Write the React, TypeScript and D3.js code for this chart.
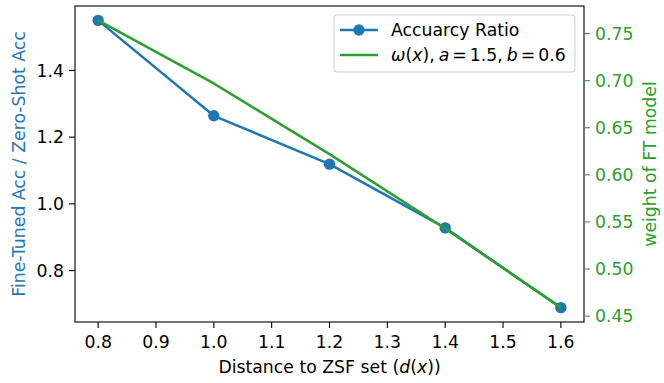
import React, { useEffect, useRef } from 'react';
import * as d3 from 'd3';

// distance to ZSF set
const xVals = [0.8, 1.0, 1.2, 1.4, 1.6];
// fine-tuned acc / zero-shot acc
const accRatio = [1.55, 1.264, 1.119, 0.928, 0.689];
// omega(x), a = 1.5, b = 0.6
const omega = [0.764, 0.697, 0.622, 0.543, 0.459];

const xTicks = [0.8, 0.9, 1.0, 1.1, 1.2, 1.3, 1.4, 1.5, 1.6];
const leftTicks = [0.8, 1.0, 1.2, 1.4];
const rightTicks = [0.45, 0.5, 0.55, 0.6, 0.65, 0.7, 0.75];

const BLUE = '#1f77b4';
const GREEN = '#2ca02c';
const FONT = 'DejaVu Sans, sans-serif';
const FS = 17.3;

function padded(vals: number[]): [number, number] {
  const lo = d3.min(vals) as number;
  const hi = d3.max(vals) as number;
  const m = (hi - lo) * 0.05;
  return [lo - m, hi + m];
}

export default function App() {
  const ref = useRef<SVGSVGElement>(null);

  useEffect(() => {
    document.body.style.margin = '0';
    const svg = d3.select(ref.current);
    svg.selectAll('*').remove();

    const left = 75, right = 584, top = 6, bottom = 322;

    const x = d3.scaleLinear().domain(padded(xVals)).range([left, right]);
    const yL = d3.scaleLinear().domain(padded(accRatio)).range([bottom, top]);
    const yR = d3.scaleLinear().domain(padded(omega)).range([bottom, top]);

    const g = svg.append('g').attr('font-family', FONT).attr('font-size', FS);

    // accuracy ratio
    const lineL = d3.line<number>().x((d, i) => x(xVals[i])).y((d) => yL(d));
    g.append('path')
      .datum(accRatio)
      .attr('fill', 'none')
      .attr('stroke', BLUE)
      .attr('stroke-width', 2.5)
      .attr('stroke-linejoin', 'round')
      .attr('d', lineL);
    g.selectAll('circle.acc')
      .data(accRatio)
      .enter()
      .append('circle')
      .attr('class', 'acc')
      .attr('cx', (d, i) => x(xVals[i]))
      .attr('cy', (d) => yL(d))
      .attr('r', 5.7)
      .attr('fill', BLUE);

    // omega
    const lineR = d3.line<number>().x((d, i) => x(xVals[i])).y((d) => yR(d));
    g.append('path')
      .datum(omega)
      .attr('fill', 'none')
      .attr('stroke', GREEN)
      .attr('stroke-width', 2.5)
      .attr('stroke-linejoin', 'round')
      .attr('d', lineR);

    // frame
    g.append('rect')
      .attr('x', left)
      .attr('y', top)
      .attr('width', right - left)
      .attr('height', bottom - top)
      .attr('fill', 'none')
      .attr('stroke', '#000')
      .attr('stroke-width', 1.1);

    // x axis
    const xa = g.append('g').attr('transform', `translate(0,${bottom})`);
    xTicks.forEach((t) => {
      xa.append('line').attr('x1', x(t)).attr('x2', x(t)).attr('y1', 0).attr('y2', 6)
        .attr('stroke', '#000').attr('stroke-width', 1.1);
      xa.append('text').attr('x', x(t)).attr('y', 26).attr('text-anchor', 'middle')
        .attr('fill', '#000').text(t.toFixed(1));
    });
    const xl = g.append('text')
      .attr('x', (left + right) / 2)
      .attr('y', 373)
      .attr('text-anchor', 'middle')
      .attr('fill', '#000');
    xl.append('tspan').text('Distance to ZSF set (');
    xl.append('tspan').attr('font-style', 'italic').text('d');
    xl.append('tspan').text('(');
    xl.append('tspan').attr('font-style', 'italic').text('x');
    xl.append('tspan').text('))');

    // left axis
    leftTicks.forEach((t) => {
      g.append('line').attr('x1', left - 6).attr('x2', left).attr('y1', yL(t)).attr('y2', yL(t))
        .attr('stroke', '#000').attr('stroke-width', 1.1);
      g.append('text').attr('x', left - 11).attr('y', yL(t)).attr('dy', '0.36em')
        .attr('text-anchor', 'end').attr('fill', '#000').text(t.toFixed(1));
    });
    g.append('text')
      .attr('transform', `translate(25,${(top + bottom) / 2}) rotate(-90)`)
      .attr('text-anchor', 'middle')
      .attr('fill', BLUE)
      .text('Fine-Tuned Acc / Zero-Shot Acc');

    // right axis
    rightTicks.forEach((t) => {
      g.append('line').attr('x1', right).attr('x2', right + 6).attr('y1', yR(t)).attr('y2', yR(t))
        .attr('stroke', GREEN).attr('stroke-width', 1.1);
      g.append('text').attr('x', right + 11).attr('y', yR(t)).attr('dy', '0.36em')
        .attr('text-anchor', 'start').attr('fill', GREEN).text(t.toFixed(2));
    });
    g.append('text')
      .attr('transform', `translate(656,${(top + bottom) / 2}) rotate(-90)`)
      .attr('text-anchor', 'middle')
      .attr('fill', GREEN)
      .text('weight of FT model');

    // legend
    const lg = g.append('g').attr('transform', 'translate(334,15)');
    lg.append('rect')
      .attr('width', 241)
      .attr('height', 57)
      .attr('rx', 3)
      .attr('fill', 'rgba(255,255,255,0.8)')
      .attr('stroke', '#d0d0d0')
      .attr('stroke-width', 1.1);
    lg.append('line').attr('x1', 6).attr('x2', 44).attr('y1', 15).attr('y2', 15)
      .attr('stroke', BLUE).attr('stroke-width', 2.5);
    lg.append('circle').attr('cx', 25).attr('cy', 15).attr('r', 5.7).attr('fill', BLUE);
    lg.append('text').attr('x', 57).attr('y', 15).attr('dy', '0.36em').attr('fill', '#000')
      .text('Accuarcy Ratio');
    lg.append('line').attr('x1', 6).attr('x2', 44).attr('y1', 40).attr('y2', 40)
      .attr('stroke', GREEN).attr('stroke-width', 2.5);
    const lt = lg.append('text').attr('x', 57).attr('y', 40).attr('dy', '0.36em').attr('fill', '#000');
    lt.append('tspan').attr('font-style', 'italic').text('ω');
    lt.append('tspan').text('(');
    lt.append('tspan').attr('font-style', 'italic').text('x');
    lt.append('tspan').text('),');
    lt.append('tspan').attr('font-style', 'italic').attr('dx', 4).text('a');
    lt.append('tspan').attr('dx', 3).text('=');
    lt.append('tspan').attr('dx', 3).text('1.5,');
    lt.append('tspan').attr('font-style', 'italic').attr('dx', 4).text('b');
    lt.append('tspan').attr('dx', 3).text('=');
    lt.append('tspan').attr('dx', 3).text('0.6');
  }, []);

  return <svg ref={ref} width={664} height={383} style={{ display: 'block', background: '#fff' }} />;
}
